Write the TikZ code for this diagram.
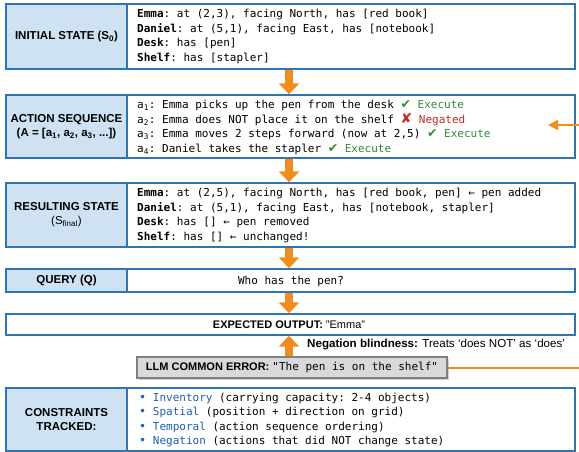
\documentclass[tikz,border=0pt]{standalone}
\usepackage{fontspec}
\setmainfont{Liberation Sans}
\setmonofont{DejaVu Sans Mono}
\newfontfamily\symfont{DejaVu Sans}
\usetikzlibrary{arrows.meta,shadows}
\definecolor{bordblue}{HTML}{2E75B6}
\definecolor{lblfill}{HTML}{CFE2F3}
\definecolor{arrorange}{HTML}{F28C1E}
\definecolor{okgreen}{HTML}{2E8B3A}
\definecolor{negred}{HTML}{C62828}
\definecolor{kwblue}{HTML}{1F5FAD}
\definecolor{errgray}{HTML}{D9D9D9}
\definecolor{errborder}{HTML}{7F7F7F}
\newcommand{\okmark}{{\color{okgreen}{\symfont\fontsize{12.5}{12}\selectfont ✔} Execute}}
\newcommand{\negmark}{{\color{negred}{\symfont\bfseries\fontsize{14}{12}\selectfont ✘} Negated}}
\tikzset{
  lblbox/.style={draw=bordblue, line width=1.4pt, fill=lblfill, minimum width=121pt,
    align=center, font=\fontsize{11.5}{14}\selectfont\bfseries, inner sep=0pt},
  contbox/.style={draw=bordblue, line width=1.4pt, fill=white, minimum width=448pt, inner sep=0pt},
  widebox/.style={draw=bordblue, line width=1.4pt, fill=white, minimum width=569pt, inner sep=0pt},
  conttext/.style={anchor=west, align=left, font=\ttfamily\fontsize{11}{14.5}\selectfont, inner sep=0pt},
  flowarrow/.style={draw=arrorange, line width=8pt, -{Triangle[width=20pt,length=11pt]}},
  errline/.style={draw=arrorange, line width=2pt},
  errbox/.style={draw=errborder, line width=1.2pt, fill=errgray, minimum width=310pt, minimum height=21pt,
    inner sep=0pt, font=\fontsize{11}{13}\selectfont,
    drop shadow={shadow xshift=1.5pt, shadow yshift=-1.5pt, opacity=0.35}},
  sidenote/.style={anchor=west, inner sep=0pt, font=\fontsize{11.6}{13}\selectfont},
}
\newcommand{\bul}{{\color{kwblue}\symfont\fontsize{12}{12}\selectfont •}}
\begin{document}
\begin{tikzpicture}[x=1pt,y=-1pt]
\useasboundingbox (0,0) rectangle (579,452);
\fill[white] (0,0) rectangle (579,452);
\coordinate (ax) at (289,0);
\coordinate (edge) at (579,0);

% Row 1: initial state
\node[lblbox, minimum height=65pt] (l1) at (66.5,36.5) {INITIAL STATE (S\textsubscript{0})};
\node[contbox, minimum height=65pt] (r1) at (351,36.5) {};
\node[conttext] (t1) at (137,36.5) {\textbf{Emma}: at (2,3), facing North, has [red book]\\
\textbf{Daniel}: at (5,1), facing East, has [notebook]\\
\textbf{Desk}: has [pen]\\
\textbf{Shelf}: has [stapler]};

% Row 2: action sequence
\node[lblbox, minimum height=63pt] (l2) at (66.5,126.5) {ACTION SEQUENCE\\(A = [a\textsubscript{1}, a\textsubscript{2}, a\textsubscript{3}, ...])};
\node[contbox, minimum height=63pt] (r2) at (351,126.5) {};
\node[conttext] (t2) at (137,127.5) {a\textsubscript{1}: Emma picks up the pen from the desk \okmark\\
a\textsubscript{2}: Emma does NOT place it on the shelf \negmark\\
a\textsubscript{3}: Emma moves 2 steps forward (now at 2,5) \okmark\\
a\textsubscript{4}: Daniel takes the stapler \okmark};

% Row 3: resulting state
\node[lblbox, minimum height=64pt] (l3) at (66.5,215) {RESULTING STATE\\{\mdseries (S\textsubscript{final})}};
\node[contbox, minimum height=64pt] (r3) at (351,215) {};
\node[conttext] (t3) at (137,215.5) {\textbf{Emma}: at (2,5), facing North, has [red book, pen] ← pen added\\
\textbf{Daniel}: at (5,1), facing East, has [notebook, stapler]\\
\textbf{Desk}: has [] ← pen removed\\
\textbf{Shelf}: has [] ← unchanged!};

% Row 4: query
\node[lblbox, minimum height=23pt] (l4) at (66.5,280.5) {QUERY (Q)};
\node[contbox, minimum height=23pt] (r4) at (351,280.5) {};
\node[inner sep=0pt, font=\ttfamily\fontsize{11}{13}\selectfont] (t4) at (291,281) {Who has the pen?};

% Row 5: expected output
\node[widebox, minimum height=21pt] (out) at (290.5,324.5) {};
\node[inner sep=0pt, font=\fontsize{11}{13}\selectfont] (t5) at (289,325) {\textbf{EXPECTED OUTPUT:} "Emma"};

% Note and error box
\node[sidenote] (neg) at (307,344.5) {\textbf{Negation blindness:} Treats `does NOT' as `does'};
\node[errbox] (err) at (292,367.5) {\textbf{LLM COMMON ERROR:} \texttt{"The pen is on the shelf"}};

% Row 7: constraints
\node[lblbox, minimum height=63pt] (l7) at (66.5,419.5) {CONSTRAINTS\\TRACKED:};
\node[contbox, minimum height=63pt] (r7) at (351,419.5) {};
\node[conttext] (t7) at (139,420) {\bul\ {\color{kwblue}Inventory} (carrying capacity: 2-4 objects)\\
\bul\ {\color{kwblue}Spatial} (position + direction on grid)\\
\bul\ {\color{kwblue}Temporal} (action sequence ordering)\\
\bul\ {\color{kwblue}Negation} (actions that did NOT change state)};

% Flow arrows
\draw[flowarrow] (r1.south -| ax) -- (r2.north -| ax);
\draw[flowarrow] (r2.south -| ax) -- (r3.north -| ax);
\draw[flowarrow] (r3.south -| ax) -- (r4.north -| ax);
\draw[flowarrow] (r4.south -| ax) -- (out.north -| ax);
\draw[flowarrow] (err.north -| ax) -- (out.south -| ax);

% Error feedback line
\coordinate (sideR) at (579,125);
\coordinate (sideL) at (548,125);
\draw[errline] (err.east) -- (err.east -| edge);
\draw[errline, -{Triangle[width=10pt,length=10pt]}] (sideR) -- (sideL);
\end{tikzpicture}
\end{document}
